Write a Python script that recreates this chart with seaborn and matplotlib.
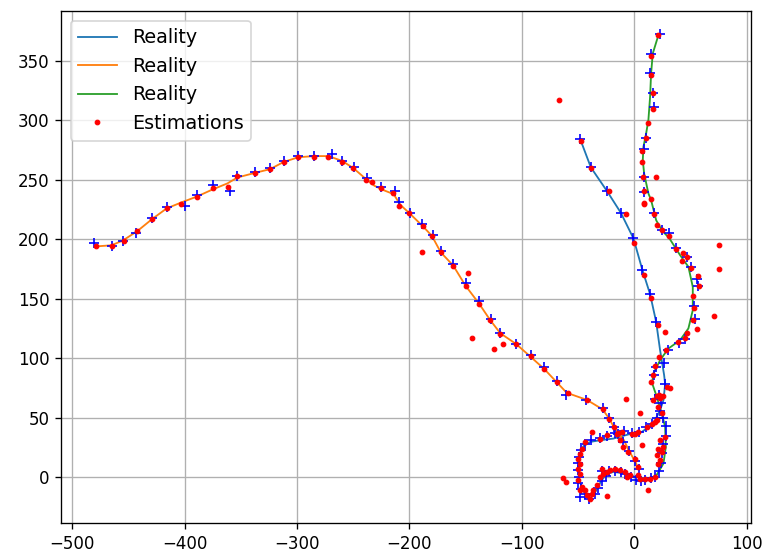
import matplotlib
matplotlib.use("Agg")
import matplotlib.pyplot as plt
import seaborn as sns

# "Reality" paths (three tracks)
real_blue_x = [-48, -38.5, -24.3, -11.8, -0.6, 7.4, 14.2, 19.6, 23.1, 26.7, 27.6, 26.1, 23.1, 17.2, 6.9,
               -2.0, -18.4, -30.2, -39.1, -45.1, -48.9, -49.8, -48.9, -44.5, -40.0, -34.7, -29.4, -24.9,
               -18.4, -8.0, 0.9, 11.3, 20.2]
real_blue_y = [284.3, 260.5, 240.8, 222.3, 200.8, 174.1, 153.9, 130.6, 106.8, 85.8, 78.2, 64.8, 56.4, 45.2,
               38.1, 36.8, 32.5, 31.1, 29.7, 26.1, 18.5, 7.6, -2.5, -12.6, -18.5, -12.6, -3.4, 2.5, 4.5,
               3.1, 0.3, -1.1, 0.3]

real_orange_x = [-480, -465, -455, -442, -429, -416, -403, -389, -375, -362, -353, -337, -324, -312, -299,
                 -285, -272, -260, -250, -239, -231, -222, -214, -208, -200, -188, -180, -172, -161, -150,
                 -138, -128, -119, -105, -93, -80, -69, -60, -42, -28, -22, -18, -14, -9, -5, 1, 4]
real_orange_y = [194, 195, 199, 207, 217, 226, 231, 236, 242, 247, 252, 256, 259, 265, 269, 270, 270, 266,
                 260, 251, 245, 241, 238, 229, 222, 211, 203, 189, 178, 161, 146, 132, 121, 112, 102, 91,
                 80, 71, 65, 57, 49, 42, 37, 31, 23, 13, 7]

real_green_x = [14.2, 20.5, 26.1, 28.2, 27.6, 24.6, 20.2, 16.0, 17.2, 23.1, 30.5, 40.9, 48.3, 52.2, 52.2,
                48.3, 40.9, 31.4, 24.6, 19.6, 15.1, 12.7, 8.9, 7.7, 8.3, 10.7, 12.7, 14.2, 15.1, 16.6, 21.6]
real_green_y = [-1.7, 2.5, 11.5, 25.5, 42.3, 53.6, 67.5, 79.1, 87.2, 98.4, 108.2, 115.2, 125.1, 140.5,
                160.0, 176.9, 186.7, 200.8, 207.7, 216.1, 233.0, 238.6, 255.4, 266.6, 277.8, 289.1, 300.3,
                319.8, 339.5, 356.3, 371.7]

# blue "+" measurements
meas_x = [
    # orange track
    -481, -465, -455, -443, -429, -416, -400, -389, -375, -360, -353, -337, -324, -312, -299, -285, -269,
    -260, -249, -238, -225, -213, -209, -199, -189, -179, -172, -161, -150, -138, -127, -119, -105, -92,
    -80, -69, -61, -43, -28, -22, -18,
    # blue track (upper)
    -48, -38.5, -24.3, -11.8, -0.6, 7.4, 14.2, 19.6, 27, 27.6,
    # green track
    23.1, 15.1, 14.2, 16.6, 17.5, 10.9, 8.5, 8.5, 8.9, 17.8, 25.2, 31.4, 37, 47.4, 50.7, 55.8, 56.6, 53,
    54, 45.4, 40, 29.7, 19.3, 17.8, 22.5,
    # cluster near origin
    -14, -10, -5, 1, 4, -30, -24, -17, -9, -2, 4, 11, 16, 20, 23, 24, 19, -38, -44, -47, -49, -50, -50,
    -49, -50, -47, -48, -44, -40, -35, -32, -29, -29, -25, -22, -17, -12, -8, -3, 2, 6, 10, 15, 19,
    22, 24, 25, 26, 28, 28, 26,
]
meas_y = [
    197, 194, 199, 205, 218, 227, 228, 237, 246, 241, 253, 257, 260, 266, 270, 270, 272, 266, 261, 252,
    244, 241, 231, 222, 213, 204, 190, 179, 163, 148, 133, 121, 112, 103, 93, 81, 69, 65, 58, 50, 42,
    284.3, 260.5, 240.8, 222.3, 200.8, 174.1, 153.9, 130.6, 96, 78.2,
    372.6, 356, 340, 323, 311, 285.5, 276, 252.6, 240, 222, 208, 205, 192.6, 185.5, 176.5, 167, 160.6,
    144, 133, 116, 113, 106.8, 92.8, 85.8, 69,
    36, 30, 22, 14, 7, 33, 35, 37, 39, 37, 38, 42, 45, 50, 56, 62, 66, 31, 28, 23, 17, 12, 6, 0, -5,
    -10, -17, -14, -18, -14, -9, -3, 5, 1, 5, 5, 4, 3, 0, -2, -3, -2, -1, 0,
    5, 12, 20, 28, 35, 43, 50,
]

# red estimations
est_x = [
    # orange track
    -479, -465, -454, -442, -429, -416, -403, -389, -375, -361, -353, -337, -324, -312, -299, -285, -272,
    -260, -250, -239, -233, -225, -215, -209, -200, -188, -180, -172, -161, -150, -138, -128, -119, -105,
    -92, -80, -69, -59, -42, -28, -22, -18, -189, -148, -144, -125, -117, -7,
    # blue track (upper)
    -47, -38, -22, -7, 0.3, 8.9, 15.1, 21.1, 27.6, 32, -66.7,
    # green track
    21.6, 15.1, 15.1, 16.6, 16.6, 12.7, 10.7, 6.8, 7.4, 7.7, 19.3, 8.9, 8.9, 9.2, 15.1, 17.8, 20.5, 25.2,
    31.4, 37.4, 43.9, 42.4, 47.4, 50.7, 57.2, 58.1, 52.8, 53.6, 52.8, 56.3, 47.4, 45.4, 39.4, 28.5, 22.5,
    18.7, 17.2, 14.8, 22.5, 75.9, 75.9, 71.2,
    # cluster near origin
    5.3, 6.8, -37.1, 12.7, -24.3, -62.9, -60.5, 20, 23, 26, 29, 21.6, 24.6, 20.2, 15.7, 11.3, 3.8, -2,
    23.1, 21.6, 24.6, 20.2, 23.1, 21.6, 26.1, 27.6, 5.3, 9.8, 14.2, 18.7, -3.6, -8, -6.5, -12.5, -16.9,
    -27.3, -30.2, -14.2, -12.5, -9.5, -5.1, 0.9, 3.8, -30.2, -24.3, -15.4, -10.9, 0.9, -43.6, -46.5, -48,
    -49.6, -48, -49.6, -48, -49.6, -46.5, -48, -43.6, -42.1, -39.1, -37.6, -36.2, -33.2, -28.7, -24.3,
    -21.4, 17.2, 18.7, 3.8,
]
est_y = [
    194, 194, 199, 207, 217, 226, 230, 236, 243, 244, 253, 256, 259, 265, 269, 269, 269, 265, 260, 250,
    248, 243, 239, 228, 222, 211, 203, 189, 178, 161, 146, 132, 120, 112, 102, 91, 80, 71, 65, 57, 49, 42,
    189, 172, 117, 108, 112, 66,
    283, 260, 241, 221, 197, 170, 151, 127.8, 122.2, 74.6, 317,
    371.7, 354.3, 338, 322.7, 309.2, 298, 284.9, 274.5, 265.2, 252.6, 252.6, 240.8, 230.2, 229.6, 233.8,
    221.2, 211.9, 207.7, 203, 191.8, 188.7, 181.7, 185.3, 176, 169, 160.6, 152.5, 142.4, 132, 124.5,
    120.9, 116.7, 113.8, 106.8, 101.2, 93.4, 85.8, 80.2, 69, 195.1, 174.7, 135.4,
    53.6, 26.9, 38.1, -10.9, -16, -0.3, -4, 68, 67, 68, 76, 59.1, 53.6, 47.9, 45.1, 42.3, 38.1, 36.7,
    31.1, 24.1, 21.3, 18.5, 14.3, 11.5, 25.5, 33.9, -1.1, -1.1, -1.1, 0.3, 1.7, 4.5, 0.3, 5.9, 7.3, 3.1,
    0.3, 37, 31.1, 25.5, 21.3, 15.7, 8.7, 32.5, 35.3, 36.7, 38.1, 36.7, 29.7, 24.1, 19.9, 15.7, 11.5, 7.3,
    3.1, -2.5, -8.2, -10.9, -10.9, -15.1, -17.9, -13.7, -10.9, -6.7, 6.5, 4.5, 5.9, 64.8, 46.5, 1.9,
]

fig = plt.figure(figsize=(766 / 120, 557 / 120), dpi=120)
ax = fig.add_axes([61 / 766, 1 - 523 / 557, 690 / 766, 512 / 557])

for xs, ys, color in [(real_blue_x, real_blue_y, "#1f77b4"),
                      (real_orange_x, real_orange_y, "#ff7f0e"),
                      (real_green_x, real_green_y, "#2ca02c")]:
    sns.lineplot(x=xs, y=ys, sort=False, estimator=None, color=color, linewidth=1.1,
                 label="Reality", ax=ax)

sns.lineplot(x=meas_x, y=meas_y, sort=False, estimator=None, color="blue", marker="+",
             linestyle="", markersize=6, markeredgecolor="blue", markeredgewidth=1,
             legend=False, ax=ax)
sns.lineplot(x=est_x, y=est_y, sort=False, estimator=None, color="red", marker=".",
             linestyle="", markersize=5.5, markeredgecolor="red", markeredgewidth=0.7,
             label="Estimations", ax=ax)

ax.set_xlim(-510, 104)
ax.set_ylim(-38.5, 392)
ax.grid(True)
ax.legend(loc="upper left", fontsize=11.5)

fig.savefig("out.png", dpi=120)
